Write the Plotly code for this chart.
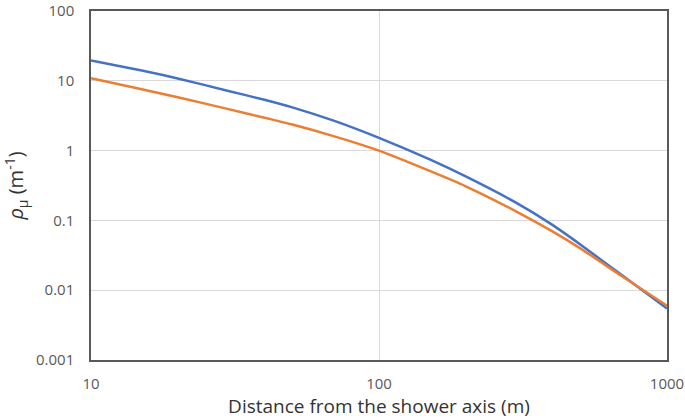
import plotly.graph_objects as go

distance = [10, 15, 20, 30, 40, 50, 70, 100, 150, 200, 300, 400, 500, 700, 1000]
rho_blue = [19.6, 14.0, 10.8, 7.16, 5.35, 4.16, 2.66, 1.52, 0.746, 0.426, 0.178, 0.0863, 0.0452, 0.0162, 0.00546]
rho_orange = [10.9, 7.59, 5.81, 3.93, 2.96, 2.36, 1.60, 0.998, 0.511, 0.308, 0.134, 0.0697, 0.0398, 0.0157, 0.0060]

y_ticks = [0.001, 0.01, 0.1, 1, 10, 100]
y_tick_text = ["0.001", "0.01", "0.1", "1", "10", "100"]
x_ticks = [10, 100, 1000]
x_tick_text = ["10", "100", "1000"]

fig = go.Figure()
fig.add_trace(go.Scatter(x=distance, y=rho_blue, mode="lines",
                         line=dict(color="#4472C4", width=2.5, shape="spline", smoothing=0.7)))
fig.add_trace(go.Scatter(x=distance, y=rho_orange, mode="lines",
                         line=dict(color="#ED7D31", width=2.5, shape="spline", smoothing=0.7)))

fam = "Open Sans, Liberation Sans, sans-serif"
axis_font = dict(family=fam, size=15, color="#595959")

fig.update_layout(
    width=685, height=419,
    margin=dict(l=91, r=18, t=11, b=59),
    plot_bgcolor="white", paper_bgcolor="white",
    showlegend=False,
    xaxis=dict(type="log", range=[1, 3], tickvals=x_ticks, ticktext=x_tick_text,
               showgrid=True, gridcolor="#d9d9d9", gridwidth=1,
               showline=True, linecolor="#595959", linewidth=1.5, mirror=True,
               ticks="", tickfont=axis_font, ticklabelstandoff=9,
               ticklabeloverflow="allow", automargin=False,
               title=dict(text="Distance from the shower axis (m)",
                          font=dict(family=fam, size=19, color="#333333"),
                          standoff=8)),
    yaxis=dict(type="log", range=[-3, 2], tickvals=y_ticks, ticktext=y_tick_text,
               showgrid=True, gridcolor="#d9d9d9", gridwidth=1,
               showline=True, linecolor="#595959", linewidth=1.5, mirror=True,
               ticks="", tickfont=axis_font, ticklabelstandoff=12,
               ticklabeloverflow="allow", automargin=False,
               title=dict(text="<i>ρ</i><sub>μ</sub> (m<sup>-1</sup>)",
                          font=dict(family=fam, size=20, color="#333333"),
                          standoff=12)),
)

fig.write_html("out.html")
